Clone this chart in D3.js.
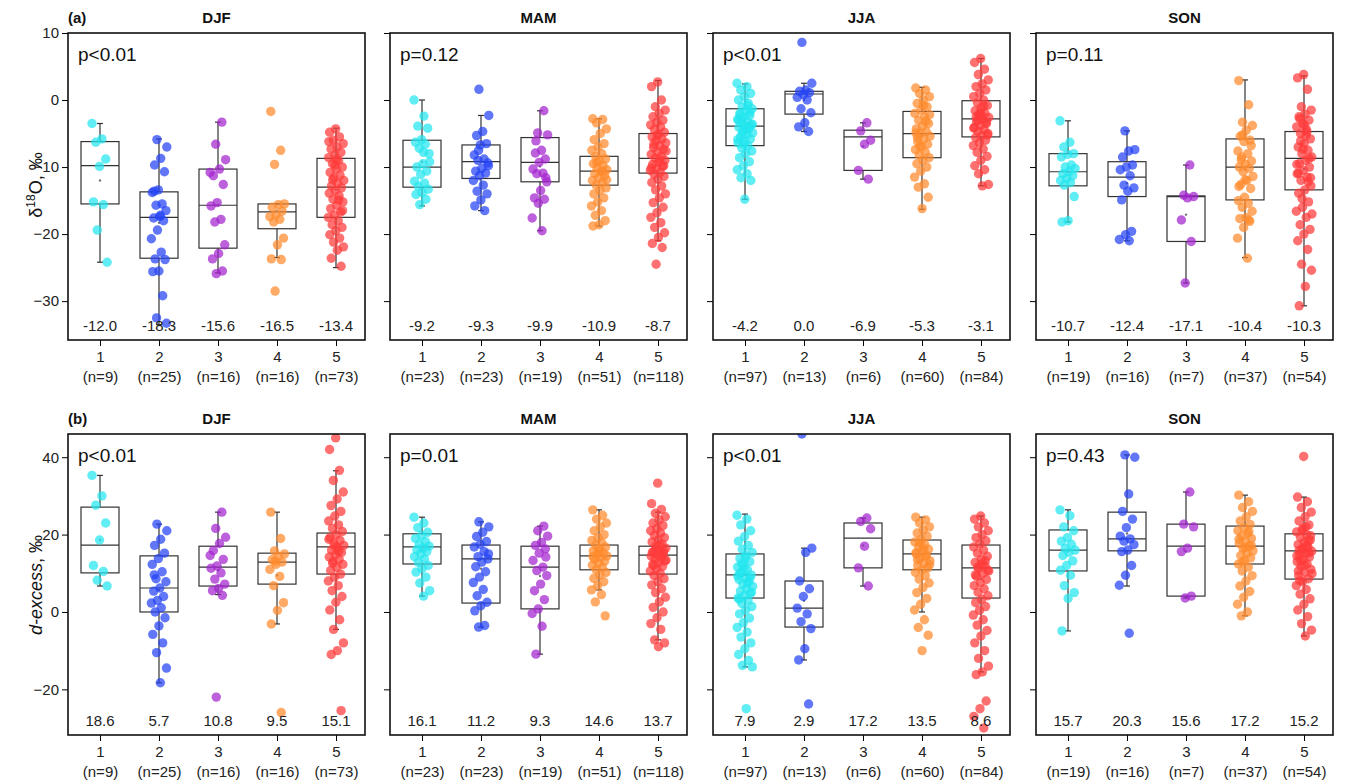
<!DOCTYPE html>
<html><head><meta charset="utf-8">
<script src="https://cdn.jsdelivr.net/npm/d3@7"></script>
<style>body{margin:0;background:#fff}text{font-family:"Liberation Sans",Arial,sans-serif}</style>
</head><body><svg width="1348" height="784"></svg>
<script>
const seasons = ["DJF", "MAM", "JJA", "SON"]
const groups = [1, 2, 3, 4, 5]
const colors = ["#22e6ee", "#2443f5", "#a423cf", "#ff8b2c", "#ff3a3a"]

// counts per season, group
const counts = [[9, 25, 16, 16, 73], [23, 23, 19, 51, 118], [97, 13, 6, 60, 84], [19, 16, 7, 37, 54]]

// ---- (a) d18O ----
const pA = ["p<0.01", "p=0.12", "p<0.01", "p=0.11"]
const meanA = [[-12.0, -18.3, -15.6, -16.5, -13.4], [-9.2, -9.3, -9.9, -10.9, -8.7], [-4.2, 0.0, -6.9, -5.3, -3.1], [-10.7, -12.4, -17.1, -10.4, -10.3]]
// [low whisker, q1, median, q3, high whisker]
const boxA = [
  [[-24.2, -15.5, -9.8, -6.2, -3.5], [-33.5, -23.6, -17.5, -13.7, -5.8], [-25.8, -22.1, -15.7, -10.3, -3.3], [-23.5, -19.2, -16.7, -15.5, -15.5], [-25, -17.5, -13, -8.7, -4.2]],
  [[-15.8, -13, -10, -6, 0], [-16.5, -11.7, -9.2, -6.7, -2.3], [-19.5, -12.2, -9.3, -5.6, -1.6], [-18.8, -12.7, -10.6, -8.4, -2.8], [-21, -10.9, -8.7, -5, 2.9]],
  [[-14.8, -6.8, -3.9, -1.3, 2.4], [-4.7, -2.1, 0.9, 1.3, 2.5], [-11.8, -10.5, -5.5, -4.5, -3.4], [-16.3, -8.6, -5, -1.7, 1.9], [-12.8, -5.5, -2.8, -0.1, 6.2]],
  [[-18.2, -12.8, -10.7, -8, -3.1], [-21, -14.4, -11.5, -9.2, -4.6], [-27.3, -21.1, -14.4, -14.3, -9.7], [-23.5, -14.9, -10, -5.8, 3], [-30.7, -13.4, -8.7, -4.7, 3.6]]
]
const ptsA = [
  [[-3.5, -5.8, -6.3, -8.8, -9.9, -15.2, -15.6, -19.4, -24.2],
   [-5.9, -7, -8.7, -9.7, -10.7, -13.4, -13.8, -15.5, -15.7, -16.5, -17.4, -17.6, -18, -19.4, -20.7, -22.7, -23.7, -23.8, -25.5, -25.6, -29.2, -32.5, -33.3, -17.2, -13.6],
   [-3.3, -6.6, -8.9, -10.3, -11.3, -12.6, -15.3, -15.8, -17.8, -18.2, -21.6, -22.9, -23.7, -25.5, -25.9, -10.8],
   [-1.7, -7.5, -9.6, -15.5, -15.6, -16, -16.6, -17.1, -17.4, -17.8, -18.2, -20.6, -21.6, -23.7, -23.8, -28.5],
   [-4.3, -4.8, -5.5, -6, -6.5, -7, -7.3, -7.8, -8.2, -8.6, -9, -9.5, -10, -10.3, -10.8, -11.2, -11.6, -12, -12.4, -12.8, -13.1, -13.5, -13.9, -14.3, -14.8, -15.2, -15.7, -16.2, -16.7, -17.2, -17.5, -18, -18.6, -19, -19.5, -20.1, -20.6, -21.2, -21.9, -22.4, -23.6, -24.8, -9.7, -6.2, -14.9, -11.9, -16.5, -8.9]],
  [[0, -2.4, -3.9, -4.2, -5.9, -6.3, -6.6, -7.2, -8, -9.5, -10, -10.6, -11.1, -12.1, -12.4, -12.9, -13.3, -13.8, -14.1, -14.8, -15.6, -9.2, -7.8],
   [1.6, -2.3, -4.7, -5.3, -6.5, -6.7, -8.2, -8.8, -9, -9.4, -10.2, -10.6, -10.9, -11.3, -12, -12.7, -13.6, -14, -14.9, -15.8, -16.5, -7.5, -9.8],
   [-1.6, -4.9, -5.2, -7.5, -7.9, -8.8, -9.3, -10.3, -10.9, -11, -12.2, -13.5, -14.6, -14.8, -15.4, -17.6, -19.5, -6.1, -11.6],
   [-2.8, -2.9, -3.4, -4.3, -5, -5.9, -6.5, -7, -7.5, -8, -8.4, -8.8, -9.1, -9.5, -9.8, -10.1, -10.4, -10.7, -11, -11.3, -11.6, -12, -12.3, -12.7, -13.1, -13.5, -14, -14.6, -15.2, -15.8, -16.5, -17.2, -18, -18.6, -18.8, -10.6, -9.3, -11.9],
   [2.7, 2, 0, -1, -1.5, -2, -2.5, -3, -3.3, -3.7, -4, -4.4, -4.8, -5.1, -5.5, -5.8, -6.1, -6.4, -6.8, -7.1, -7.4, -7.8, -8.1, -8.4, -8.7, -9, -9.3, -9.6, -9.9, -10.2, -10.5, -10.8, -11.1, -11.4, -11.8, -12.3, -12.8, -13.4, -14, -14.6, -15.3, -16, -16.8, -17.5, -18.3, -19, -19.8, -20.5, -21.4, -22, -24.5, -7.6, -8.9, -6.6, -9.8, -5.3, -10.1]],
  [[2.5, 2, 1.5, 1, 0.5, 0, -0.5, -1, -1.3, -1.6, -2, -2.3, -2.6, -2.9, -3.2, -3.5, -3.7, -3.9, -4.1, -4.3, -4.6, -4.9, -5.2, -5.5, -5.8, -6.1, -6.4, -6.8, -7.2, -7.6, -8, -8.6, -9.2, -9.8, -10.4, -11, -11.6, -12, -14.8, -3, -4, -5, -3.6, -4.4, -2.2, -1.8, -6.6, -5.9, -0.8, -2.8],
   [8.6, 2.5, 1.5, 1.3, 1.1, 0.8, 0.4, 0, -1.3, -1.9, -3.4, -4, -4.7],
   [-3.4, -4.6, -6, -6.6, -10.5, -11.8],
   [1.8, 1.5, 1, 0.5, 0, -0.5, -1, -1.5, -2, -2.5, -3, -3.5, -3.9, -4.3, -4.7, -5, -5.4, -5.8, -6.2, -6.6, -7, -7.4, -7.8, -8.2, -8.6, -9, -9.5, -10, -10.6, -11.5, -12.5, -13, -14.5, -16.2, -4.9, -3.2, -6.9, -2.2, -0.8, -5.6],
   [6.2, 5.6, 4.6, 3.8, 3, 2.4, 2, 1.5, 1, 0.5, 0, -0.4, -0.8, -1.2, -1.6, -2, -2.3, -2.6, -2.9, -3.2, -3.5, -3.8, -4.1, -4.4, -4.7, -5, -5.3, -5.6, -6, -6.4, -6.8, -7.3, -7.8, -8.4, -9, -9.8, -10.4, -11, -12.6, -12.8, -2.5, -3.3, -1.9, -4.2, -0.9, -3, -5.2, -2.2]],
  [[-3.1, -6.3, -7, -8, -8.1, -8.5, -9.7, -10, -10.2, -10.7, -11, -11.3, -11.7, -12, -12.3, -12.7, -14.4, -18, -18.2],
   [-4.6, -7.4, -7.6, -8.5, -9.7, -10, -10.4, -11.3, -12.7, -13.1, -13.6, -14.9, -19.6, -20.1, -20.8, -21],
   [-9.7, -14.2, -14.4, -14.6, -17.9, -21.1, -27.3],
   [2.9, -0.7, -3.3, -3.8, -4.5, -5.4, -6, -6.2, -7.6, -8, -8.5, -9.1, -9.6, -10, -10.2, -10.7, -11.4, -12, -12.6, -13.2, -14.5, -15, -15.4, -16, -16.6, -17.5, -17.7, -18.1, -19, -20.6, -23.6, -8.9, -6.8, -11.9, -12.9, -17.9, -5.2],
   [3.8, 3.3, 1.6, -1, -1.5, -2.1, -2.5, -3, -3.5, -4, -4.4, -5, -5.8, -6.5, -7, -7.5, -8, -8.5, -9, -9.5, -10, -10.5, -11, -11.5, -12, -12.8, -13.4, -13.9, -15.2, -16, -16.6, -17.5, -18.6, -19.3, -20, -21, -22.3, -24.5, -25.4, -27.8, -30.7, -8.7, -7.3, -9.6, -4.8, -6.1, -11.6, -3.8, -10.9, -12.2, -14.7, -17, -5.3, -2.8]]
]

// ---- (b) d-excess ----
const pB = ["p<0.01", "p=0.01", "p<0.01", "p=0.43"]
const meanB = [[18.6, 5.7, 10.8, 9.5, 15.1], [16.1, 11.2, 9.3, 14.6, 13.7], [7.9, 2.9, 17.2, 13.5, 8.6], [15.7, 20.3, 15.6, 17.2, 15.2]]
const boxB = [
  [[6.7, 10.1, 17.3, 27.1, 35.3], [-18.3, 0, 6.2, 14.5, 22.7], [4.5, 6.7, 11.6, 17, 25.8], [-3.1, 7.2, 12.9, 15.2, 25.8], [-4.5, 9.8, 16.8, 20.4, 36.5]],
  [[4.1, 12.4, 16.8, 20.2, 24.5], [-3.9, 2.3, 13.7, 17.3, 23.3], [-10.9, 0.8, 11.6, 17, 22.2], [5.7, 10.9, 14.5, 17.3, 26.4], [-7.2, 9.8, 14.7, 17, 25.8]],
  [[-14.2, 3.6, 9.6, 15, 25.3], [-12.4, -3.9, 1, 8, 16.5], [6.7, 11.4, 19.1, 23, 24.3], [0, 10.9, 15, 18.6, 24.5], [-15.5, 3.6, 11.4, 17.3, 24.8]],
  [[-4.9, 10.6, 16, 21.2, 26.4], [6.7, 15.8, 18.9, 25.8, 40.6], [3.6, 4.1, 17, 22.7, 31], [-1, 12.4, 17, 22.2, 30.2], [-6.2, 8.5, 15.8, 20.2, 29.7]]
]
const ptsB = [
  [[35.3, 30, 27.6, 23, 18.6, 12, 10.5, 8.2, 6.7],
   [22.7, 21, 18.8, 17.2, 15.2, 13.8, 12.3, 10.4, 8.6, 7.8, 6.2, 5.4, 4, 3, 2.3, 1.1, 0, -1.5, -3.6, -5.8, -8, -10.5, -14.5, -18.3, 9.6],
   [25.8, 21.6, 19.3, 17.7, 15.9, 13.6, 11.9, 11.3, 10.1, 8.5, 7.2, 6.1, 5.5, 4.3, -22, 14.6],
   [25.8, 19, 15.8, 15, 14.4, 13.5, 12.9, 12.3, 11, 9.2, 6.8, 2.4, 0.4, -3.1, -26, 13.1],
   [45, 42, 36.6, 34, 31, 29.2, 27.5, 26, 24.8, 23.5, 22.5, 21.6, 20.8, 20, 19.2, 18.5, 17.8, 17.2, 16.6, 16, 15.4, 14.8, 14.2, 13.6, 13, 12.3, 11.5, 10.7, 9.8, 9, 8, 6.8, 5.5, 4, 2.5, 0.5, -2, -4.5, -8, -10, -11, -25.5, 17, 18.8, 15.7, 12.6]],
  [[24.5, 23, 21.8, 20.6, 19.8, 19, 18.2, 17.5, 17, 16.5, 16.1, 15.6, 15, 14.3, 13.7, 12.8, 12, 11.2, 10.3, 9, 7.5, 5.5, 4.1],
   [23.3, 22, 20.6, 19.5, 18.2, 17.5, 16.8, 15.6, 14.3, 13.7, 12.9, 11.7, 10.4, 9, 7.6, 5.8, 4.2, 2.5, 1.6, 0.3, -3.5, -3.9, 15],
   [22.2, 21, 19.6, 18, 17.2, 16.3, 15.2, 13.3, 11.6, 10.7, 9.4, 7.2, 5.5, 3.2, 0.8, -0.4, -3.7, -10.9, 14.2],
   [26.4, 25, 24, 23, 22, 21, 20, 19.2, 18.5, 17.9, 17.3, 16.8, 16.3, 15.8, 15.3, 14.9, 14.5, 14.1, 13.6, 13.1, 12.6, 12.1, 11.5, 10.9, 10.2, 9.5, 8.7, 7.8, 6.8, 5.7, 4.5, 2.6, -1, 15.6, 14.3],
   [33.3, 28, 26.5, 25.5, 24.6, 23.8, 23, 22.3, 21.6, 21, 20.4, 19.8, 19.2, 18.6, 18.1, 17.6, 17, 16.5, 16, 15.6, 15.2, 14.8, 14.4, 14, 13.6, 13.2, 12.8, 12.3, 11.8, 11.2, 10.6, 10, 9.4, 8.6, 7.8, 7, 6, 5, 3.8, 2.6, 1.2, 0, -1.5, -3, -4.5, -7.2, -8, -9, 15.4, 14.6, 16.2, 13.4, 17.2, 12, 15.8]],
  [[25, 24, 22.5, 21, 19.5, 18.3, 17.2, 16.2, 15.4, 14.6, 13.8, 13, 12.3, 11.6, 10.9, 10.2, 9.6, 9, 8.4, 7.8, 7.2, 6.6, 6, 5.4, 4.8, 4.2, 3.6, 3, 2.2, 1.4, 0.5, -0.5, -1.6, -2.8, -4, -5.2, -6.5, -8, -9.5, -11, -12.5, -13.8, -14.2, -25, 10, 8.8, 11.2, 9.3, 7.5, 12.5, 5.1, 14, 3.3],
   [46, 16.5, 15.4, 8, 6, 4, 1, -0.5, -2.5, -4.3, -9.5, -12.4, -23.8],
   [24.3, 23.4, 21.5, 17, 11.4, 6.7],
   [24.5, 23.8, 23, 22, 21.2, 20.4, 19.6, 18.8, 18.1, 17.4, 16.8, 16.2, 15.6, 15, 14.4, 13.8, 13.2, 12.6, 12, 11.4, 10.8, 10.2, 9.4, 8.5, 7.5, 6.3, 5, 3.5, 2, 0.5, -2, -4, -6, -10, 15.3, 14.7, 17.9, 12.2, 16.4, 13.5],
   [24.8, 24, 23, 22, 21, 20, 19.2, 18.4, 17.6, 16.8, 16, 15.2, 14.4, 13.6, 12.8, 12, 11.3, 10.6, 9.9, 9.2, 8.4, 7.6, 6.8, 6, 5.1, 4.2, 3.3, 2.4, 1.4, 0.4, -0.8, -2, -3.4, -4.8, -6.2, -8, -10, -12, -14, -15.5, -16.2, -23, -25, -27, -30, 11.6, 10.8, 12.4, 9.6, 13.2]],
  [[26.4, 24.9, 22, 21, 19.2, 18.3, 17.5, 16.5, 16, 15.4, 14.6, 13.2, 12, 10.8, 9.5, 6.8, 5, 3.5, -4.9],
   [40.6, 40, 30.5, 26, 24, 21.8, 19.6, 18.9, 18.3, 17.4, 16, 15.6, 12, 9.5, 6.9, -5.5],
   [31, 22.7, 22, 16.5, 15.6, 4.1, 3.6],
   [30.2, 28.5, 27, 26, 24.6, 23.5, 22.6, 21.8, 21, 20.3, 19.6, 19, 18.3, 17.7, 17, 16.4, 15.8, 15.2, 14.6, 14, 13.3, 12.4, 11.6, 10.6, 9.4, 8, 6.7, 5.3, 3.8, 2, 0, -1, 17.2, 16.7, 18.8, 20.8, 12.9],
   [40.2, 29.7, 28.5, 27, 25.8, 24.6, 23.5, 22.5, 21.6, 20.7, 20, 19.3, 18.6, 18, 17.4, 16.8, 16.2, 15.7, 15.2, 14.7, 14.2, 13.6, 13, 12.4, 11.7, 11, 10.2, 9.4, 8.6, 7.8, 6.8, 5.8, 4.6, 3.4, 2, 0.5, -1.2, -3, -4.7, -6.2, 15.9, 15.3, 16.5, 14.5, 17.1, 13.3, 19.7, 12.1, 10.6, 18.3, 21.1, 9.9, 22, 8.1]]
]

const svg = d3.select("svg")
const panelX = [68, 390, 713, 1036]
const panelW = 297

const rows = [
  {tag: "(a)", top: 33, bottom: 340, domain: [-35.8, 10], ticks: [10, 0, -10, -20, -30], p: pA, mean: meanA, box: boxA, pts: ptsA},
  {tag: "(b)", top: 434, bottom: 735, domain: [-31.8, 46], ticks: [40, 20, 0, -20], p: pB, mean: meanB, box: boxB, pts: ptsB}
]

rows.forEach((row, r) => {
  const y = d3.scaleLinear().domain(row.domain).range([row.bottom, row.top])
  seasons.forEach((s, si) => {
    const x0 = panelX[si]
    const x = d3.scalePoint().domain(groups).range([x0 + 32, x0 + 268])
    const g = svg.append("g")
    const clipId = `clip${r}${si}`
    g.append("clipPath").attr("id", clipId).append("rect")
      .attr("x", x0).attr("y", row.top).attr("width", panelW).attr("height", row.bottom - row.top)

    // y axis
    g.append("g").attr("transform", `translate(${x0},0)`)
      .call(d3.axisLeft(y).tickValues(row.ticks).tickSize(6).tickSizeOuter(0).tickFormat(si === 0 ? d3.format("d") : ""))
      .call(a => a.select(".domain").remove())
      .call(a => a.selectAll("text").attr("font-size", 15).attr("fill", "#222"))
    // x axis
    const xa = g.append("g").attr("transform", `translate(0,${row.bottom})`)
      .call(d3.axisBottom(x).tickSize(6).tickSizeOuter(0))
    xa.select(".domain").remove()
    xa.selectAll("text").attr("font-size", 15).attr("fill", "#222").attr("dy", "0.85em")
    xa.selectAll(".tick").append("text").attr("y", 29).attr("dy", "0.85em")
      .attr("fill", "#222").attr("font-size", 15).attr("text-anchor", "middle")
      .text((d, i) => `(n=${counts[si][i]})`)

    // boxes
    const bw = 19
    groups.forEach((gr, gi) => {
      const [lo, q1, md, q3, hi] = row.box[si][gi]
      const cx = x(gr)
      const bg = g.append("g").attr("stroke", "#333").attr("stroke-width", 1.2).attr("fill", "none")
      bg.append("line").attr("x1", cx).attr("x2", cx).attr("y1", y(hi)).attr("y2", y(q3))
      bg.append("line").attr("x1", cx).attr("x2", cx).attr("y1", y(q1)).attr("y2", y(lo))
      bg.append("line").attr("x1", cx - 3).attr("x2", cx + 3).attr("y1", y(hi)).attr("y2", y(hi))
      bg.append("line").attr("x1", cx - 3).attr("x2", cx + 3).attr("y1", y(lo)).attr("y2", y(lo))
      bg.append("rect").attr("x", cx - bw).attr("width", bw * 2).attr("y", y(q3)).attr("height", Math.max(0.5, y(q1) - y(q3)))
      bg.append("line").attr("x1", cx - bw).attr("x2", cx + bw).attr("y1", y(md)).attr("y2", y(md))
      g.append("circle").attr("cx", cx).attr("cy", y(row.mean[si][gi])).attr("r", 1.2).attr("fill", "#777")
    })

    // points
    const pg = g.append("g").attr("clip-path", `url(#${clipId})`)
    groups.forEach((gr, gi) => {
      const vals = row.pts[si][gi]
      pg.selectAll(null).data(vals).join("circle")
        .attr("cx", (d, i) => x(gr) + (((i * 0.6180339 + gi * 0.37) % 1) - 0.5) * 16)
        .attr("cy", d => y(d))
        .attr("r", 4.7)
        .attr("fill", colors[gi]).attr("fill-opacity", 0.72)
    })

    // means text
    groups.forEach((gr, gi) => {
      g.append("text").attr("x", x(gr)).attr("y", row.bottom - 9).attr("text-anchor", "middle")
        .attr("font-size", 15).attr("fill", "#222").text(row.mean[si][gi].toFixed(1))
    })

    // frame
    g.append("rect").attr("x", x0).attr("y", row.top).attr("width", panelW).attr("height", row.bottom - row.top)
      .attr("fill", "none").attr("stroke", "#111").attr("stroke-width", 1.6)
    g.append("text").attr("x", x0 + 10).attr("y", row.top + 28).attr("font-size", 19).attr("fill", "#111").text(row.p[si])
    g.append("text").attr("x", x0 + panelW / 2).attr("y", row.top - 10).attr("text-anchor", "middle")
      .attr("font-size", 15).attr("font-weight", "bold").attr("fill", "#111").text(s)
    if (si === 0) g.append("text").attr("x", x0).attr("y", row.top - 10).attr("font-size", 15)
      .attr("font-weight", "bold").attr("fill", "#111").text(row.tag)
  })
})

// y labels
svg.append("text").attr("transform", "translate(42,185) rotate(-90)").attr("text-anchor", "middle")
  .attr("font-size", 18).attr("fill", "#111")
  .call(t => { t.append("tspan").text("δ"); t.append("tspan").attr("font-size", 12).attr("dy", -7).text("18"); t.append("tspan").attr("dy", 7).text("O, ‰") })
svg.append("text").attr("transform", "translate(42,585) rotate(-90)").attr("text-anchor", "middle")
  .attr("font-size", 18).attr("fill", "#111")
  .call(t => { t.append("tspan").attr("font-style", "italic").text("d-excess"); t.append("tspan").text(", ‰") })
</script></body></html>
